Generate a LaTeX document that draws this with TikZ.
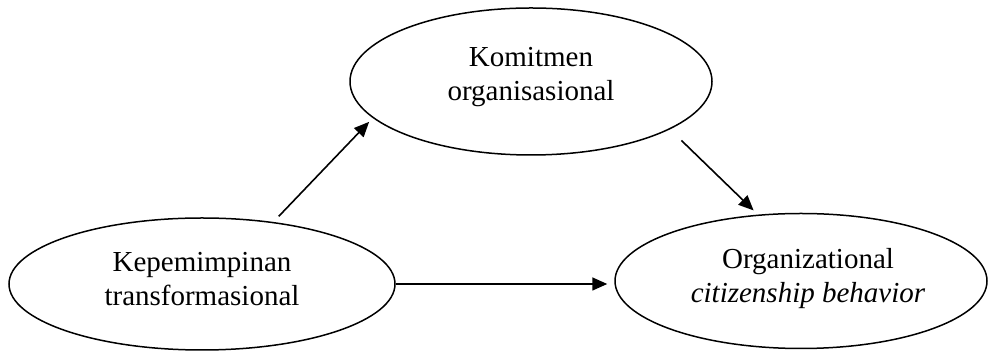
\documentclass[tikz,border=0pt]{standalone}
\usepackage{fontspec}
\setmainfont{Liberation Serif}[ItalicFont={Liberation Serif Italic},BoldFont={Liberation Serif Bold}]
\usetikzlibrary{arrows.meta,shapes.geometric}
\begin{document}
\begin{tikzpicture}[x=1pt,y=1pt,
  oval/.style={ellipse, draw, line width=1.5pt, inner sep=0pt},
  txt/.style={align=center, inner sep=0pt, font=\fontsize{29}{34}\selectfont},
  arr/.style={-{Triangle[length=15pt,width=13pt]}, line width=1.6pt}]
\useasboundingbox (0,0) rectangle (990,352);
\node[oval, minimum width=362pt, minimum height=147pt] (kom) at (531,270.5) {};
\node[oval, minimum width=386pt, minimum height=132pt] (kep) at (202,68) {};
\node[oval, minimum width=372pt, minimum height=135pt] (ocb) at (801,71) {};
\node[txt] (komt) at ([yshift=4.7pt]kom.center) {Komitmen\\organisasional};
\node[txt] (kept) at ([yshift=4.6pt]kep.center) {Kepemimpinan\\transformasional};
\node[txt] (ocbt) at ([xshift=7pt,yshift=2pt]ocb.center) {Organizational\\\textit{citizenship behavior}};
\draw[arr, shorten <=7.7pt, shorten >=5.3pt] (kep.41.55) -- (kom.193.65);
\draw[arr, shorten <=16pt, shorten >=6pt] (kom.341.8) -- (ocb.123);
\draw[arr, shorten >=7pt] (kep.east) -- (kep.east -| ocb.west);
\end{tikzpicture}
\end{document}
